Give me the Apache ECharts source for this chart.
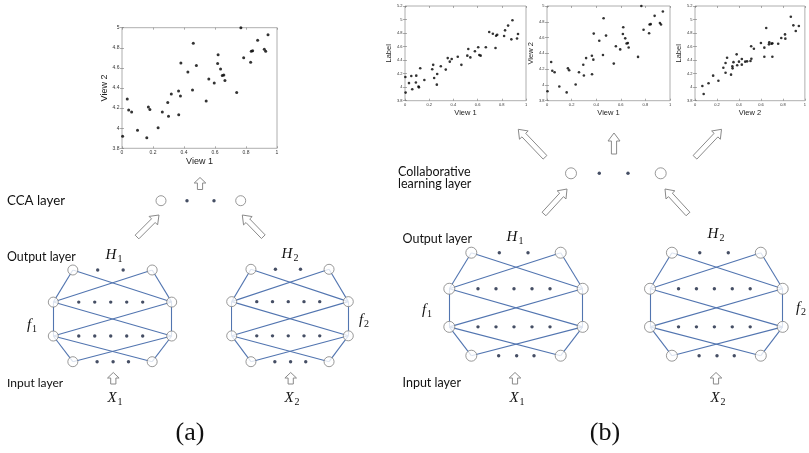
<!DOCTYPE html>
<html><head><meta charset="utf-8">
<script src="https://cdn.jsdelivr.net/npm/echarts@6/dist/echarts.min.js"></script>
<style>html,body{margin:0;padding:0;background:#fff}#c{width:809px;height:453px}</style>
</head><body><div id="c"></div>
<script>
// ---------------- DATA ----------------
// View 1 vs View 2 (plot a and middle plot of b)
const view1View2 = [[0.004,3.92],[0.034,4.29],[0.043,4.18],[0.062,4.16],[0.10,3.98],[0.16,3.905],[0.17,4.21],[0.18,4.185],[0.233,4.005],[0.26,4.16],[0.295,4.255],[0.30,4.12],[0.318,4.34],[0.365,4.37],[0.366,4.135],[0.377,4.32],[0.38,4.65],[0.425,4.56],[0.455,4.38],[0.46,4.845],[0.48,4.625],[0.543,4.27],[0.56,4.49],[0.595,4.45],[0.617,4.645],[0.62,4.73],[0.636,4.59],[0.647,4.525],[0.657,4.53],[0.664,4.475],[0.74,4.355],[0.767,5.0],[0.785,4.70],[0.83,4.655],[0.834,4.765],[0.843,4.77],[0.875,4.875],[0.918,4.785],[0.927,4.765],[0.942,4.93]];
// View 1 vs Label
const view1Label = [[0.003,4.15],[0.005,3.92],[0.033,4.06],[0.052,4.165],[0.06,3.97],[0.09,4.07],[0.093,4.17],[0.112,4.01],[0.115,3.997],[0.126,4.28],[0.16,4.106],[0.225,4.264],[0.233,4.33],[0.241,4.135],[0.263,4.037],[0.266,4.195],[0.296,4.31],[0.337,4.26],[0.353,4.43],[0.37,4.377],[0.386,4.416],[0.436,4.45],[0.466,4.33],[0.515,4.466],[0.523,4.564],[0.54,4.44],[0.578,4.53],[0.605,4.59],[0.614,4.475],[0.625,4.466],[0.668,4.59],[0.696,4.816],[0.726,4.79],[0.748,4.58],[0.753,4.76],[0.762,4.776],[0.819,4.756],[0.827,4.84],[0.852,4.91],[0.879,4.707],[0.888,4.99],[0.926,4.72],[0.934,4.786]];
// View 2 vs Label
const view2Label = [[0.067,4.017],[0.079,3.90],[0.123,4.057],[0.165,4.17],[0.213,4.096],[0.258,4.288],[0.278,4.214],[0.278,4.357],[0.292,4.436],[0.328,4.185],[0.34,4.308],[0.342,4.278],[0.35,4.37],[0.379,4.485],[0.384,4.323],[0.40,4.377],[0.426,4.333],[0.426,4.416],[0.457,4.377],[0.474,4.382],[0.505,4.387],[0.513,4.42],[0.511,4.604],[0.536,4.569],[0.60,4.653],[0.631,4.584],[0.631,4.45],[0.648,4.875],[0.673,4.633],[0.676,4.663],[0.696,4.643],[0.704,4.648],[0.704,4.45],[0.757,4.643],[0.785,4.727],[0.819,4.78],[0.822,4.717],[0.872,5.04],[0.895,4.914],[0.917,4.83],[0.945,4.904]];
const xTicksView = [0,0.2,0.4,0.6,0.8,1];
const yTicksA = [3.8,4,4.2,4.4,4.6,4.8,5];
const yTicksLabel = [3.8,4,4.2,4.4,4.6,4.8,5,5.2];

// network template (local units): 8 neurons, 4 layers
const netNodes = [[-0.67,1],[0.67,1],[-1,0.65],[1,0.65],[-1,0.28],[1,0.28],[-0.67,0],[0.67,0]];
const netEdges = [[0,2],[0,3],[1,2],[1,3],[2,4],[3,5],[2,5],[3,4],[4,6],[4,7],[5,6],[5,7]];
const netDotsTop = [[-0.25,1],[0.18,1]];
const netDotsMidX = [-0.57,-0.30,-0.03,0.24,0.51];
const netDotsMidY = [0.65,0.28];
const netDotsBottom = [[-0.26,0],[0.01,0],[0.27,0]];

// overlay diagram (page units)
const layerNodesA = [[161,200.7],[240.7,200.7]];
const layerDotsA = [[187,200.7],[214,200.7]];
const layerNodesB = [[571,173.3],[660.7,173.3]];
const layerDotsB = [[599.3,173.3],[628,173.3]];
const bigArrows = [ // tail x,y -> head x,y
  [137,237,159,215],[263.3,236.7,242.3,215],
  [545,157.3,518.3,129.3],[614,154,614,133],[695,157.3,721.5,129.3],
  [544,214,567,189],[688,214,665,189]
];
const smallArrows = [
  [200,189.5,200,177.5],
  [113.3,384,113.3,372.5],[290.7,384,290.7,372.5],
  [515,384,515,372.5],[716,384,716,372.5]
];

// ---------------- CHART ----------------
const chart = echarts.init(document.getElementById('c'), null, {renderer:'canvas'});
const grid = [], xAxis = [], yAxis = [], series = [];

function fmt(v){ return String(+(+v).toFixed(1)); }

function scatterPlot(box, yTicks, xName, yName, tickFs, nameFs, data, sym, nameGapX, nameGapY) {
  const gi = grid.length;
  grid.push({left:box[0], top:box[1], width:box[2], height:box[3], show:true, borderColor:'#9a9a9a', borderWidth:0.8, backgroundColor:'#fff'});
  const tick = {show:true, inside:true, length:2, lineStyle:{color:'#777', width:0.6}};
  const line = {show:false};
  const xi = xAxis.length, yi = yAxis.length;
  xAxis.push({gridIndex:gi, type:'value', min:xTicksView[0], max:xTicksView[xTicksView.length-1], interval:0.2,
    axisLine:line, axisTick:tick, splitLine:{show:false},
    axisLabel:{fontSize:tickFs, color:'#333', margin:2, formatter:fmt, fontFamily:'Liberation Sans'},
    name:xName, nameLocation:'middle', nameGap:nameGapX, nameTextStyle:{fontSize:nameFs, color:'#222', fontFamily:'Liberation Sans'}});
  xAxis.push({gridIndex:gi, type:'value', position:'top', min:xTicksView[0], max:xTicksView[xTicksView.length-1], interval:0.2,
    axisLine:line, axisTick:tick, axisLabel:{show:false}, splitLine:{show:false}});
  yAxis.push({gridIndex:gi, type:'value', min:yTicks[0], max:yTicks[yTicks.length-1], interval:0.2,
    axisLine:line, axisTick:tick, splitLine:{show:false},
    axisLabel:{fontSize:tickFs, color:'#333', margin:2.5, formatter:fmt, fontFamily:'Liberation Sans'},
    name:yName, nameLocation:'middle', nameGap:nameGapY, nameTextStyle:{fontSize:nameFs, color:'#222', fontFamily:'Liberation Sans'}});
  yAxis.push({gridIndex:gi, type:'value', position:'right', min:yTicks[0], max:yTicks[yTicks.length-1], interval:0.2,
    axisLine:line, axisTick:tick, axisLabel:{show:false}, splitLine:{show:false}});
  series.push({type:'scatter', xAxisIndex:xi, yAxisIndex:yi, data:data, symbol:'circle', symbolSize:sym,
    itemStyle:{color:'#000'}, silent:true, animation:false});
}

scatterPlot([122,27.7,155,120.6], yTicksA, 'View 1', 'View 2', 5, 9, view1View2, 3, 9, 10);
scatterPlot([405,6,121,94.7], yTicksLabel, 'View 1', 'Label', 4, 7.5, view1Label, 2.6, 8.5, 9);
scatterPlot([547,6,123,94.7], yTicksA, 'View 1', 'View 2', 4, 7.5, view1View2, 2.6, 8.5, 9);
scatterPlot([695,6,119,94.7], yTicksLabel, 'View 2', 'Label', 4, 7.5, view2Label, 2.6, 8.5, 9);

function network(box, nodeSize) {
  const gi = grid.length;
  grid.push({left:box[0], top:box[1], width:box[2], height:box[3], show:false});
  const xi = xAxis.length, yi = yAxis.length;
  xAxis.push({gridIndex:gi, type:'value', min:-1, max:1, show:false});
  yAxis.push({gridIndex:gi, type:'value', min:0, max:1, show:false});
  series.push({type:'lines', coordinateSystem:'cartesian2d', xAxisIndex:xi, yAxisIndex:yi, silent:true, animation:false,
    lineStyle:{color:'#5275b0', width:1.1, opacity:1}, z:2,
    data: netEdges.map(e => ({coords:[netNodes[e[0]], netNodes[e[1]]]}))});
  const dots = netDotsTop.concat(netDotsBottom);
  netDotsMidY.forEach(y => netDotsMidX.forEach(x => dots.push([x,y])));
  series.push({type:'scatter', xAxisIndex:xi, yAxisIndex:yi, data:dots, symbolSize:3.4, clip:false, silent:true, animation:false,
    itemStyle:{color:'#17223d'}, z:3});
  series.push({type:'scatter', xAxisIndex:xi, yAxisIndex:yi, data:netNodes, symbolSize:nodeSize, clip:false, silent:true, animation:false,
    itemStyle:{color:'#fff', borderColor:'#808080', borderWidth:1}, z:4});
}
network([53.3,270,118.4,91.7], 10);
network([231.7,269.3,116.6,92.4], 10);
network([449.3,252.7,133.4,103], 11);
network([650,252.7,132.7,103], 11);

// overlay grid in page units
const og = grid.length;
grid.push({left:0, top:0, width:809, height:453, show:false});
const oxi = xAxis.length, oyi = yAxis.length;
xAxis.push({gridIndex:og, type:'value', min:0, max:809, show:false});
yAxis.push({gridIndex:og, type:'value', min:0, max:453, inverse:true, show:false});

function arrowSeries(data, sw, hw, hl) {
  return {type:'custom', xAxisIndex:oxi, yAxisIndex:oyi, data:data, silent:true, animation:false, clip:false, z:5,
    renderItem:function(params, api){
      const t = api.coord([api.value(0), api.value(1)]);
      const h = api.coord([api.value(2), api.value(3)]);
      const dx = h[0]-t[0], dy = h[1]-t[1], L = Math.sqrt(dx*dx+dy*dy);
      const ux = dx/L, uy = dy/L, nx = -uy, ny = ux;
      const bx = h[0]-ux*hl, by = h[1]-uy*hl;
      const pts = [
        [t[0]+nx*sw, t[1]+ny*sw],[bx+nx*sw, by+ny*sw],[bx+nx*hw, by+ny*hw],[h[0],h[1]],
        [bx-nx*hw, by-ny*hw],[bx-nx*sw, by-ny*sw],[t[0]-nx*sw, t[1]-ny*sw]];
      return {type:'polygon', shape:{points:pts}, style:{fill:'#fff', stroke:'#8a8a8a', lineWidth:1}};
    }};
}
series.push(arrowSeries(bigArrows, 2.6, 6, 8));
series.push(arrowSeries(smallArrows, 2.6, 5.8, 5.5));

series.push({type:'scatter', xAxisIndex:oxi, yAxisIndex:oyi, data:layerDotsA.concat(layerDotsB), symbolSize:3.4, silent:true, animation:false, itemStyle:{color:'#17223d'}, z:3});
series.push({type:'scatter', xAxisIndex:oxi, yAxisIndex:oyi, data:layerNodesA, symbolSize:10, silent:true, animation:false, itemStyle:{color:'#fff', borderColor:'#808080', borderWidth:1}, z:4});
series.push({type:'scatter', xAxisIndex:oxi, yAxisIndex:oyi, data:layerNodesB, symbolSize:11, silent:true, animation:false, itemStyle:{color:'#fff', borderColor:'#808080', borderWidth:1}, z:4});

// text
const SANS = 'Lato';
function txt(s, x, y, size, align) {
  return {type:'text', x:x, y:y, z:10, style:{text:s, font:size+'px ' + SANS, fill:'#111', align:align||'left', verticalAlign:'middle'}};
}
function sym(main, sub, x, y) {
  return {type:'text', x:x, y:y, z:10, style:{text:'{m|'+main+'}{s|'+sub+'}', align:'center', verticalAlign:'middle',
    rich:{m:{fontFamily:'Liberation Serif', fontStyle:'italic', fontSize:15, fill:'#111', lineHeight:18, verticalAlign:'middle'},
          s:{fontFamily:'Liberation Serif', fontSize:10, fill:'#111', lineHeight:18, padding:[8,0,0,1]}}}};
}
const graphic = [
  txt('CCA layer', 7, 201, 13.3),
  txt('Output layer', 7, 257, 12.4),
  txt('Input layer', 7, 383, 12),
  txt('Collaborative', 398, 171.5, 12.5),
  txt('learning layer', 398, 183.5, 12.5),
  txt('Output layer', 402.5, 238.5, 12.5),
  txt('Input layer', 402.5, 382.5, 12.5),
  sym('H','1',114,255), sym('H','2',290,254),
  sym('f','1',32,325), sym('f','2',364,320),
  sym('X','1',115,398), sym('X','2',292,398),
  sym('H','1',515,237), sym('H','2',716,234.5),
  sym('f','1',427,310), sym('f','2',801,308.5),
  sym('X','1',517,398.5), sym('X','2',718,398.5),
  {type:'text', x:190, y:433, z:10, style:{text:'(a)', font:'26px "Liberation Serif"', fill:'#111', align:'center', verticalAlign:'middle'}},
  {type:'text', x:605, y:433, z:10, style:{text:'(b)', font:'26px "Liberation Serif"', fill:'#111', align:'center', verticalAlign:'middle'}}
];

chart.setOption({animation:false, backgroundColor:'#fff', grid:grid, xAxis:xAxis, yAxis:yAxis, series:series, graphic:graphic});
</script></body></html>
